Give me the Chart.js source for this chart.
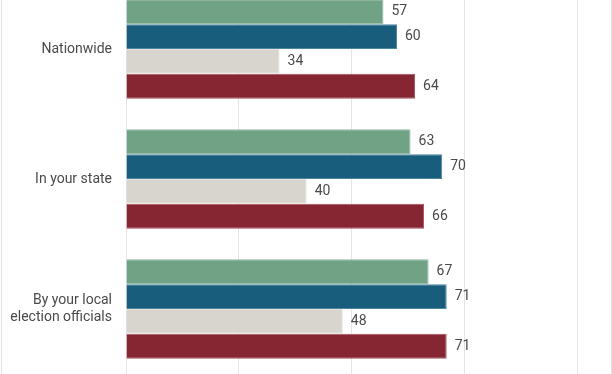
<!DOCTYPE html>
<html lang="en">
<head>
    <meta charset="UTF-8">
    <title>Trust in vote counting</title>
    <script src="https://cdn.jsdelivr.net/npm/chart.js"></script>
    <style>
        html, body { margin: 0; padding: 0; background: #fff; }
        #wrap {
            position: relative;
            width: 612px;
            height: 374px;
            overflow: hidden;
            background: #fff;
        }
        #wrap::before, #wrap::after {
            content: '';
            position: absolute;
            top: 0;
            bottom: 0;
            width: 1px;
            background: #e2e2e2;
            z-index: 2;
        }
        #wrap::before { left: 1px; }
        #wrap::after { left: 611px; }
        #myChart { position: absolute; left: 0; top: -16px; }
    </style>
</head>
<body>
    <div id="wrap">
        <canvas id="myChart" width="612" height="390"></canvas>
    </div>

    <script>
        // categories (top to bottom)
        const categories = ['Nationwide', 'In your state', ['By your local', 'election officials']];

        // four series, one bar each per category
        const seriesA = [57, 63, 67];   // green
        const seriesB = [60, 70, 71];   // blue
        const seriesC = [34, 40, 48];   // light grey
        const seriesD = [64, 66, 71];   // red

        const xTicks = [0, 25, 50, 75, 100];

        const fills = ['#70a386', '#185e7c', '#d8d4ce', '#862633'];
        const edges = ['#8fb8a1', '#4d86a0', '#e4e1dc', '#a6505b'];

        // value labels to the right of each bar
        const valueLabels = {
            id: 'valueLabels',
            afterDatasetsDraw(chart) {
                const ctx = chart.ctx;
                ctx.save();
                ctx.font = '14px Roboto';
                ctx.fillStyle = '#4a4a4a';
                ctx.textAlign = 'left';
                ctx.textBaseline = 'middle';
                chart.data.datasets.forEach((ds, i) => {
                    chart.getDatasetMeta(i).data.forEach((bar, j) => {
                        ctx.fillText(ds.data[j], bar.x + 8, bar.y);
                    });
                });
                ctx.restore();
            }
        };

        const ctx = document.getElementById('myChart').getContext('2d');
        new Chart(ctx, {
            type: 'bar',
            data: {
                labels: categories,
                datasets: [seriesA, seriesB, seriesC, seriesD].map((d, i) => ({
                    data: d,
                    backgroundColor: fills[i],
                    borderColor: edges[i],
                    borderWidth: 1,
                    borderSkipped: 'start',
                    categoryPercentage: 0.764,
                    barPercentage: 1
                }))
            },
            options: {
                indexAxis: 'y',
                responsive: false,
                animation: false,
                layout: { padding: 0, autoPadding: false },
                plugins: {
                    legend: { display: false },
                    tooltip: { enabled: false }
                },
                scales: {
                    x: {
                        min: 0,
                        max: 107.6,
                        afterBuildTicks(scale) {
                            scale.ticks = xTicks.map(v => ({ value: v }));
                        },
                        afterFit(scale) { scale.height = 0; },
                        ticks: { display: false },
                        grid: { color: '#e4e4e4', drawTicks: false },
                        border: { display: false }
                    },
                    y: {
                        afterFit(scale) {
                            scale.width = 126;
                            scale.paddingTop = 0;
                            scale.paddingBottom = 0;
                        },
                        ticks: {
                            padding: 14,
                            color: '#4a4a4a',
                            font: { family: 'Roboto', size: 14, lineHeight: 1.2 }
                        },
                        grid: { display: false, drawTicks: false },
                        border: { display: false }
                    }
                }
            },
            plugins: [valueLabels]
        });
    </script>
</body>
</html>
